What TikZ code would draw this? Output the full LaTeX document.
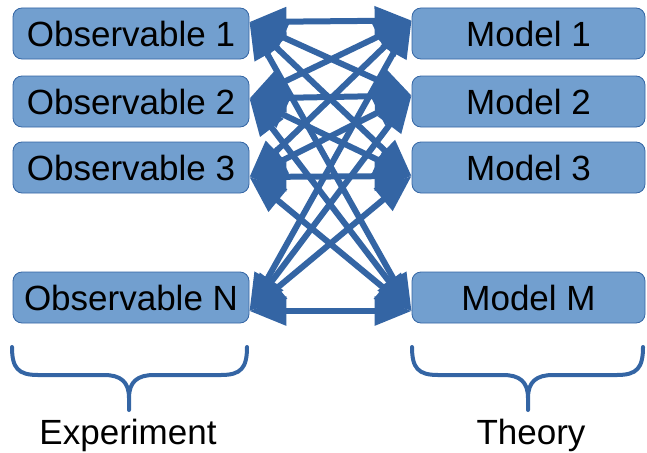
\documentclass[tikz,border=0pt]{standalone}
\usepackage{fontspec}
\setmainfont{Liberation Sans}
\usetikzlibrary{arrows.meta}
\definecolor{linkblue}{HTML}{3465A4}
\definecolor{boxfill}{HTML}{729FCF}
\begin{document}
\begin{tikzpicture}[x=1pt,y=-1pt,
  box/.style={draw=linkblue, line width=0.8pt, fill=boxfill, rounded corners=9pt,
    minimum height=51pt, inner sep=0pt, font=\fontsize{35}{40}\selectfont},
  obsbox/.style={box, minimum width=236pt},
  modbox/.style={box, minimum width=233pt},
  link/.style={draw=linkblue, line width=6pt,
    {Triangle[length=37pt,width=28pt]}-{Triangle[length=37pt,width=28pt]}},
  brace/.style={draw=linkblue, line width=4pt, line cap=round, line join=round},
  caption/.style={font=\fontsize{35}{40}\selectfont, anchor=base, inner sep=0pt}]
\path[use as bounding box] (0,0) rectangle (647,452);

% experiment side
\node[obsbox] (o1) at (131,33.5)  {Observable 1};
\node[obsbox] (o2) at (131,101.5) {Observable 2};
\node[obsbox] (o3) at (131,167.5) {Observable 3};
\node[obsbox] (o4) at (131,297.5) {Observable N};

% theory side
\node[modbox] (m1) at (528.5,33.5)  {Model 1};
\node[modbox] (m2) at (528.5,101.5) {Model 2};
\node[modbox] (m3) at (528.5,167.5) {Model 3};
\node[modbox] (m4) at (528.5,297.5) {Model M};

% attachment points on the facing sides
\coordinate (o1p) at ([yshift=11.5pt]o1.east);
\coordinate (o2p) at ([yshift=3pt]o2.east);
\coordinate (o3p) at ([yshift=-9.5pt]o3.east);
\coordinate (o4p) at ([yshift=-13.5pt]o4.east);
\coordinate (m1p) at ([yshift=13pt]m1.west);
\coordinate (m2p) at ([yshift=6pt]m2.west);
\coordinate (m3p) at ([yshift=-8.5pt]m3.west);
\coordinate (m4p) at ([yshift=-13.5pt]m4.west);

% every observable linked with every model
\foreach \a in {o1p,o2p,o3p,o4p}
  \foreach \b in {m1p,m2p,m3p,m4p}
    \draw[link] (\a) -- (\b);

% curly braces under each column
\draw[brace] (12,347) .. controls (12,368) and (18,375) .. (38,375) -- (104,375)
  .. controls (121,375) and (129,382) .. (129,398) -- (129,410) -- (129,398)
  .. controls (129,382) and (137,375) .. (154,375) -- (221,375)
  .. controls (241,375) and (247,368) .. (247,347);
\draw[brace] (412,347) .. controls (412,368) and (418,375) .. (438,375) -- (503,375)
  .. controls (520,375) and (528,382) .. (528,398) -- (528,410) -- (528,398)
  .. controls (528,382) and (536,375) .. (553,375) -- (617,375)
  .. controls (637,375) and (643,368) .. (643,347);

\node[caption] (exp) at (128,444) {Experiment};
\node[caption] (theo) at (531,444) {Theory};
\end{tikzpicture}
\end{document}
